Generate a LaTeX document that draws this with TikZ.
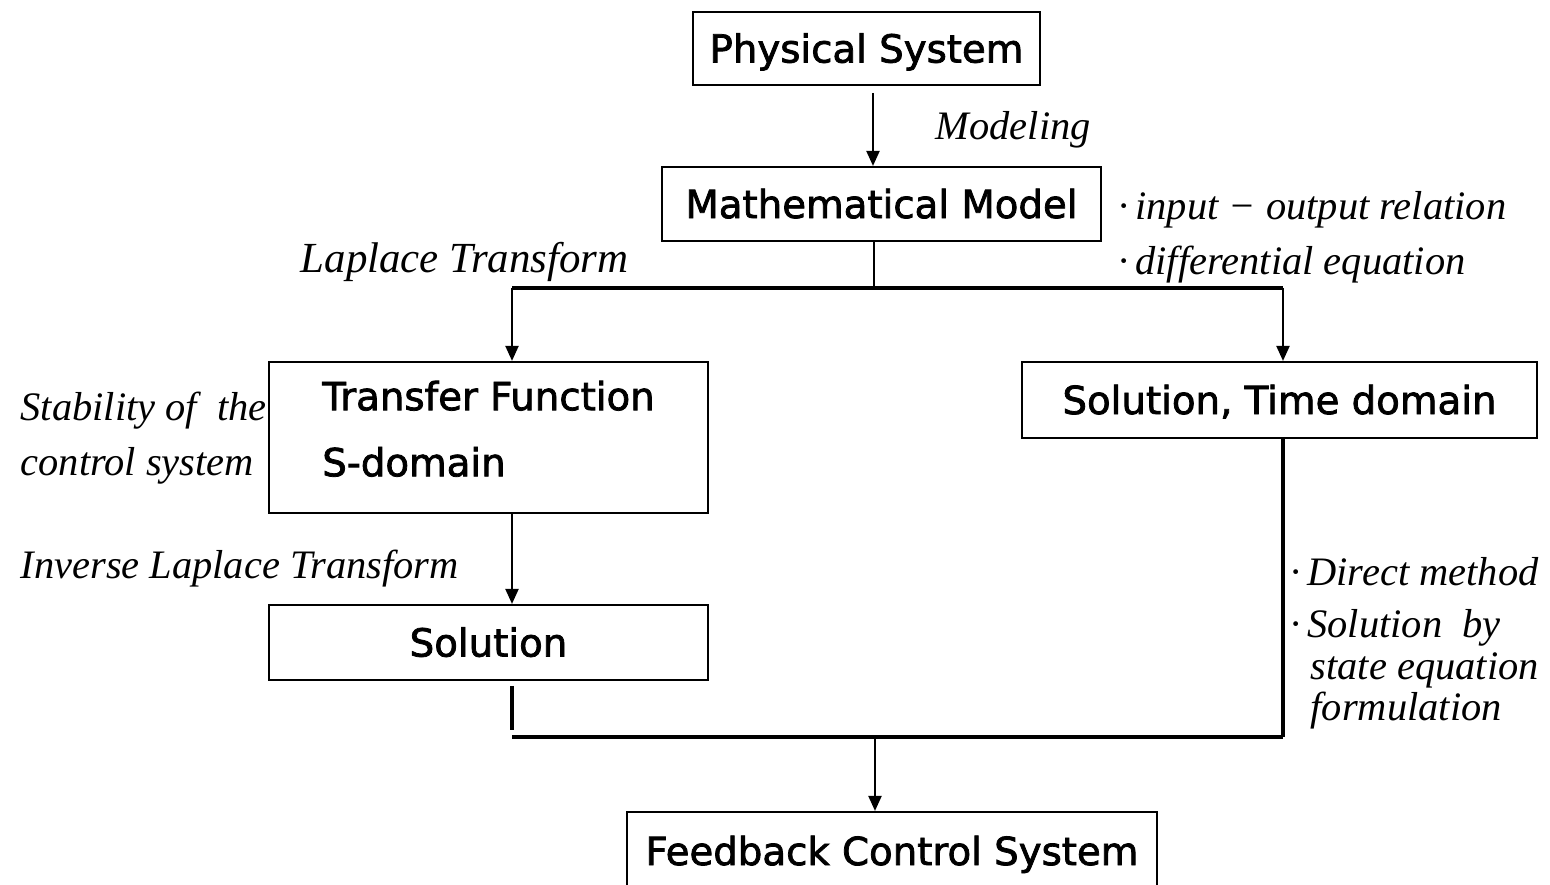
\documentclass[tikz,border=0pt]{standalone}
\usepackage{fontspec}
\setmainfont{Liberation Serif}
\newfontfamily\boxfont{DejaVu Sans}[FakeBold=2]
\usetikzlibrary{arrows.meta}
\begin{document}
\begin{tikzpicture}[x=0.01cm,y=-0.01cm,
  box/.style={draw, line width=0.6pt, font=\boxfont\fontsize{11}{13}\selectfont, inner sep=0pt},
  box1/.style={box, text height=8pt, text depth=0pt},
  lab/.style={font=\itshape\fontsize{11.5}{13}\selectfont, anchor=west, inner sep=0pt},
  conn/.style={line width=0.6pt},
  arr/.style={conn, -{Triangle[length=1.5mm,width=1.3mm]}},
  bus/.style={line width=1.1pt}]
\useasboundingbox (0,0) rectangle (1550,885);
\clip (0,0) rectangle (1550,885);

% boxes
\node[box1, minimum width=3.47cm, minimum height=0.73cm] (phys) at (866.5,48.5) {Physical System};
\node[box1, minimum width=4.39cm, minimum height=0.74cm] (math) at (881.5,204) {Mathematical Model};
\node[box, minimum width=4.39cm, minimum height=1.51cm, font=\boxfont\fontsize{11}{18.8}\selectfont] (tf) at (488.5,437.5)
  {\begin{tabular}{@{}l@{}}Transfer Function\\S-domain\rule[-9.9pt]{0pt}{9.9pt}\end{tabular}};
\node[box1, minimum width=5.15cm, minimum height=0.76cm] (td) at (1279.5,400) {Solution, Time domain};
\node[box1, minimum width=4.39cm, minimum height=0.75cm] (sol) at (488.5,642.5) {Solution};
\node[box1, minimum width=5.30cm, minimum height=0.78cm] (fb) at (892,851) {Feedback Control System};

% labels
\node[lab] (l1) at (935,130) {Modeling};
\node[lab, font=\itshape\fontsize{12.2}{14}\selectfont] (l2) at (300,262) {Laplace Transform};
\node[lab] (l3) at (1118,210) {·\,input − output relation};
\node[lab] (l4) at (1118,265) {·\,differential equation};
\node[lab] (l5) at (20,411) {Stability of \ the};
\node[lab] (l6) at (20,466) {control system};
\node[lab] (l7) at (20,569) {Inverse Laplace Transform};
\node[lab] (l8) at (1290,572) {·\,Direct method};
\node[lab] (l9) at (1290,628) {·\,Solution \ by};
\node[lab] (l10) at (1310,670) {state equation};
\node[lab] (l11) at (1310,711) {formulation};

% connectors
\coordinate (a1) at (873,93);
\draw[arr] (a1) -- (a1 |- math.north);
\coordinate (j0) at (874,288);
\coordinate (jl) at (512,288);
\coordinate (jr) at (1283,288);
\draw[conn] (j0 |- math.south) -- (j0);
\draw[bus] (jl) -- (jr);
\draw[arr] (jl) -- (jl |- tf.north);
\draw[arr] (jr) -- (jr |- td.north);
\draw[arr] (jl |- tf.south) -- (jl |- sol.north);
\coordinate (bl) at (512,737);
\coordinate (br) at (1283,737);
\coordinate (bm) at (875,737);
\coordinate (s1) at (512,686);
\coordinate (s2) at (512,730);
\draw[line width=0.9pt] (s1) -- (s2);
\draw[line width=0.9pt] (br |- td.south) -- (br);
\draw[bus] (bl) -- (br);
\draw[arr] (bm) -- (bm |- fb.north);
\end{tikzpicture}
\end{document}
